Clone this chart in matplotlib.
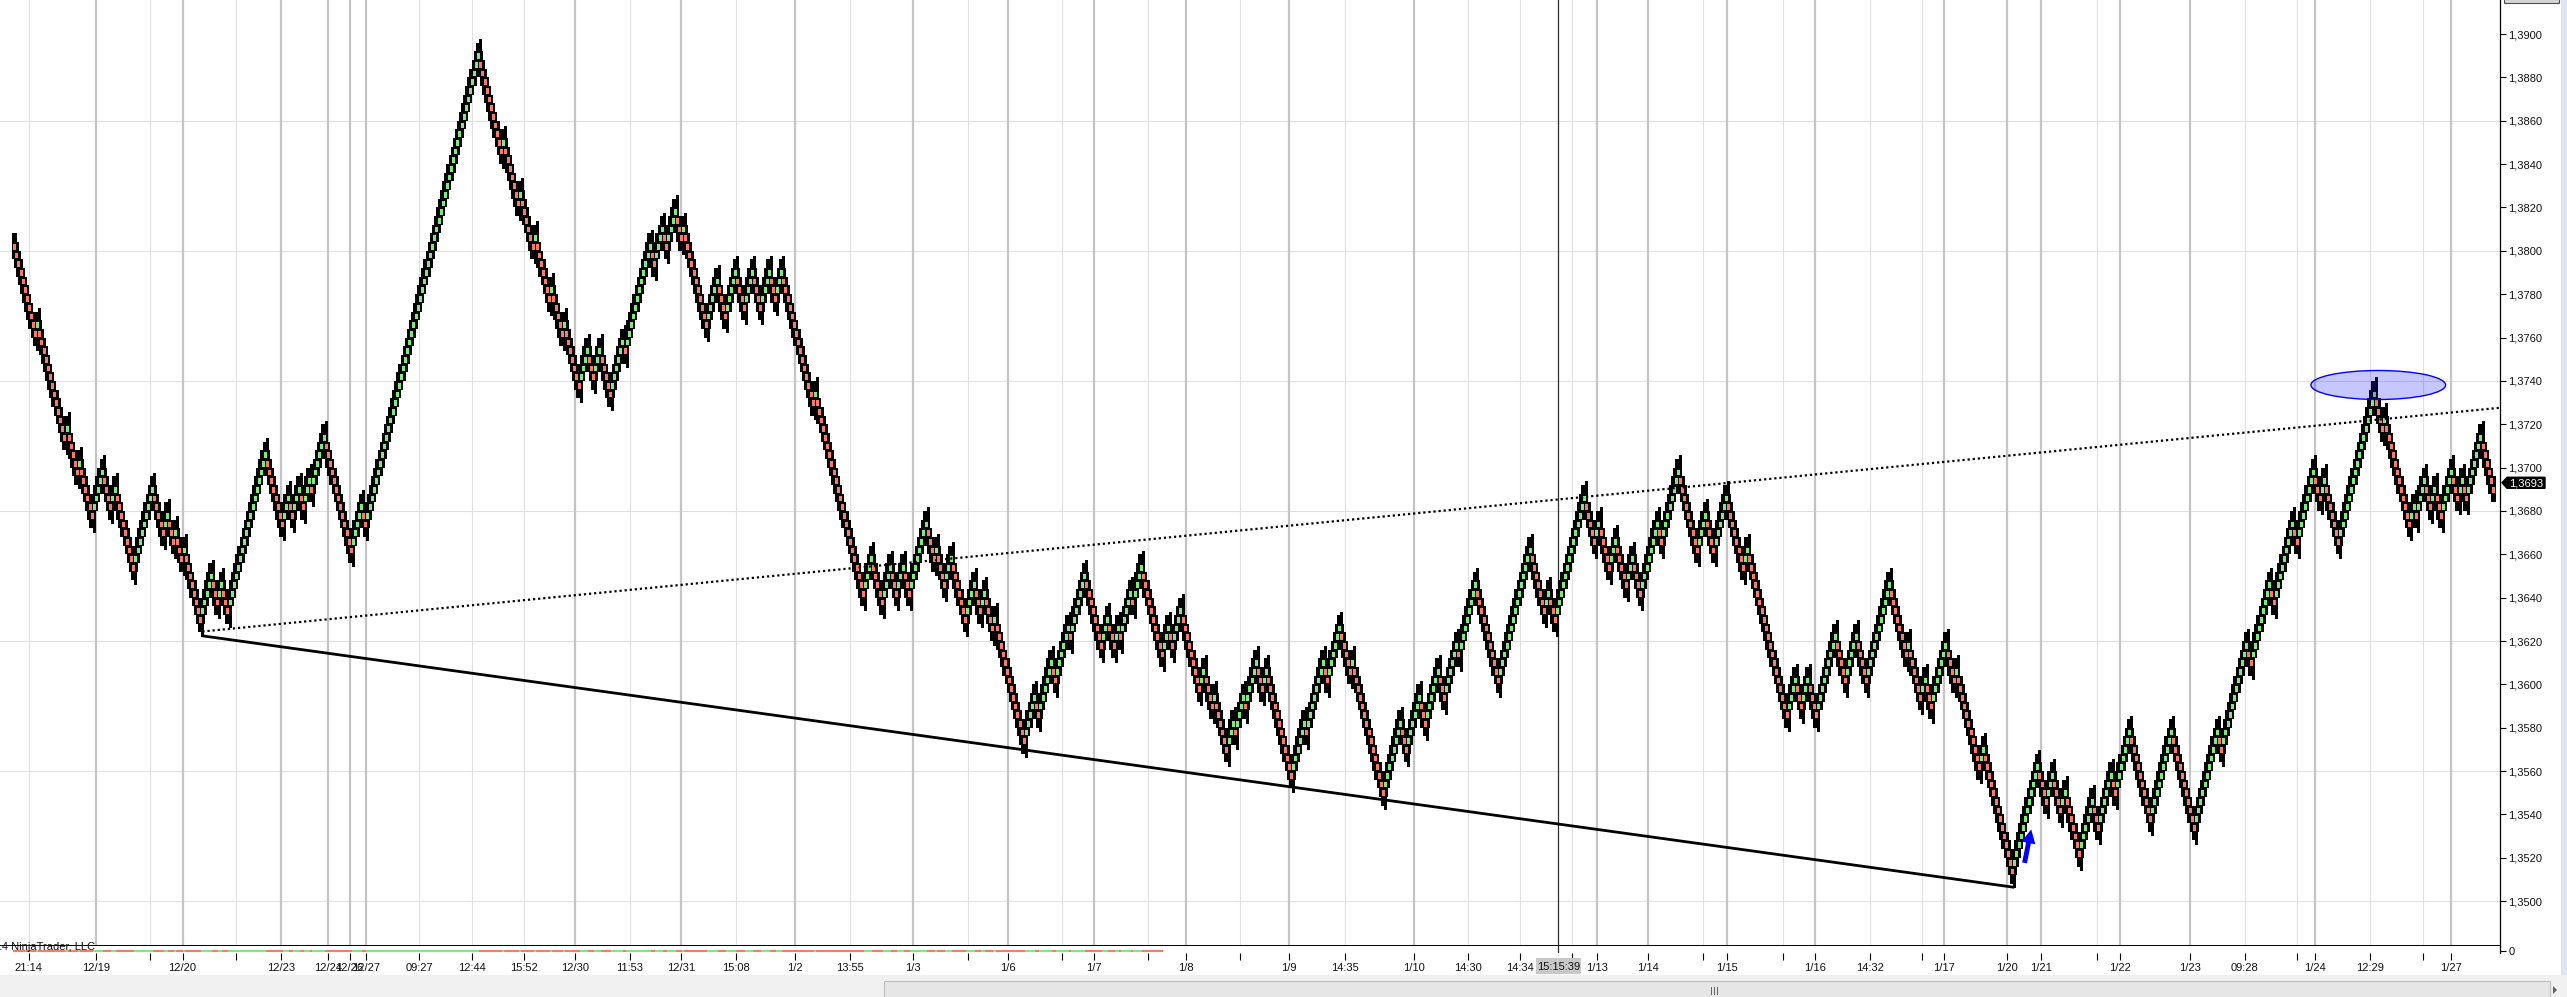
import numpy as np
import matplotlib
matplotlib.use("Agg")
import matplotlib.pyplot as plt
from matplotlib.patches import Ellipse, Rectangle, Polygon

plt.rcParams['font.family'] = ['Liberation Sans', 'DejaVu Sans']

# ---------------- data ----------------
BRICK = 0.0004
# renko reversal points (prices), left to right
pivots_a = [1.3804, 1.3760, 1.3768, 1.3712, 1.3720, 1.3696, 1.3704, 1.3676, 1.3700, 1.3680,
            1.3692, 1.3652, 1.3692, 1.3668, 1.3680, 1.3664, 1.3672, 1.3656, 1.3664, 1.3628]
pivots_b = [1.3652, 1.3636, 1.3648, 1.3632, 1.3708, 1.3672, 1.3688, 1.3676, 1.3692, 1.3680,
            1.3696, 1.3688, 1.3716, 1.3660, 1.3684, 1.3672, 1.3892]
pivots_c = [1.3844, 1.3852, 1.3820, 1.3828, 1.3800, 1.3808, 1.3776, 1.3784, 1.3760, 1.3768,
            1.3736, 1.3756, 1.3740, 1.3756, 1.3732, 1.3760, 1.3752, 1.3804, 1.3792, 1.3812,
            1.3800, 1.3820, 1.3804, 1.3812, 1.3764, 1.3788, 1.3768, 1.3792, 1.3772, 1.3792,
            1.3772, 1.3792, 1.3776, 1.3792]
pivots_d = [1.3728, 1.3736, 1.3640, 1.3660, 1.3636, 1.3656, 1.3640, 1.3656, 1.3640, 1.3676,
            1.3656, 1.3664, 1.3644, 1.3660, 1.3628, 1.3648, 1.3632, 1.3644, 1.3624, 1.3632,
            1.3572]
pivots_e = [1.3596, 1.3584, 1.3612, 1.3600, 1.3628, 1.3620, 1.3652, 1.3616, 1.3632, 1.3616,
            1.3628, 1.3620, 1.3644, 1.3636, 1.3656, 1.3612, 1.3628, 1.3616, 1.3636, 1.3596,
            1.3608, 1.3588, 1.3596, 1.3568, 1.3584, 1.3576, 1.3596, 1.3588, 1.3612, 1.3596,
            1.3608, 1.3556, 1.3584, 1.3576, 1.3612, 1.3600, 1.3628, 1.3604, 1.3612, 1.3548,
            1.3584, 1.3568, 1.3596, 1.3580, 1.3608, 1.3592, 1.3620, 1.3612, 1.3648, 1.3600,
            1.3664, 1.3632, 1.3644, 1.3628, 1.3688, 1.3664, 1.3676, 1.3652, 1.3668, 1.3644,
            1.3660, 1.3640, 1.3676, 1.3664, 1.3700, 1.3660, 1.3680, 1.3660, 1.3688, 1.3652,
            1.3664, 1.3584, 1.3604, 1.3588, 1.3604, 1.3584, 1.3624, 1.3600, 1.3624, 1.3600,
            1.3648, 1.3612, 1.3620, 1.3592, 1.3604, 1.3588, 1.3620, 1.3600, 1.3608, 1.3560,
            1.3572, 1.3512]
pivots_f = [1.3564, 1.3544, 1.3560, 1.3540, 1.3552, 1.3520, 1.3548, 1.3532, 1.3560, 1.3548,
            1.3580, 1.3536, 1.3580, 1.3532, 1.3580, 1.3568, 1.3620, 1.3608, 1.3648, 1.3636,
            1.3676, 1.3664, 1.3700, 1.3684, 1.3696, 1.3664, 1.3736, 1.3716, 1.3724, 1.3672,
            1.3684, 1.3676, 1.3696, 1.3680, 1.3692, 1.3676, 1.3700, 1.3684, 1.3696, 1.3684,
            1.3716, 1.3688]
last_price = 1.3693

# x-axis labels (kind: 'd' = new day, 't' = time / unlabeled)
tick_labels = ['21:14', '12/19', '', '12/20', '', '12/23', '12/24', '12/26', '12/27', '09:27',
               '12:44', '15:52', '12/30', '11:53', '12/31', '15:08', '1/2', '13:55', '1/3', '',
               '1/6', '', '1/7', '', '1/8', '', '1/9', '14:35', '1/10', '14:30', '14:34', '',
               '1/13', '1/14', '', '1/15', '', '1/16', '14:32', '', '1/17', '1/20', '1/21', '',
               '1/22', '1/23', '09:28', '', '1/24', '12:29', '', '1/27']
tick_kinds = ['t', 'd', 't', 'd', 't', 'd', 'd', 'd', 'd', 't',
              't', 't', 'd', 't', 'd', 't', 'd', 't', 'd', 't',
              'd', 't', 'd', 't', 'd', 't', 'd', 't', 'd', 't', 't', 't',
              'd', 'd', 't', 'd', 't', 'd', 't', 't', 'd', 'd', 'd', 't',
              'd', 'd', 't', 't', 'd', 't', 't', 'd']
# screen positions of those ticks (pixels from the left edge of the plot)
tick_px = [28.7, 95.9, 150.4, 182.5, 236.5, 281.3, 327.7, 349.6, 366.2, 419.0,
           471.8, 524.1, 575.1, 629.7, 681.3, 736.4, 795.0, 850.1, 913.1, 968.2,
           1007.8, 1062.4, 1093.9, 1148.5, 1185.8, 1240.3, 1289.1, 1344.8, 1413.7, 1467.6, 1520.4, 1572.0,
           1597.3, 1647.8, 1702.6, 1727.4, 1782.9, 1815.0, 1870.3, 1922.3, 1943.8, 2007.4, 2041.2, 2096.5,
           2120.2, 2189.9, 2244.6, 2297.2, 2315.4, 2370.2, 2422.7, 2450.9]

pivots = pivots_a + pivots_b + pivots_c + pivots_d + pivots_e + pivots_f


# ---------------- renko construction ----------------
def build_renko(piv, b):
    lv = [int(round(p / b)) for p in piv]
    opens, closes, highs, lows = [], [], [], []
    prev_dir = 0
    cur = lv[0]
    for tgt in lv[1:]:
        d = 1 if tgt > cur else -1
        o = cur if prev_dir == 0 else cur - prev_dir  # reversal opens at previous open
        first = True
        while True:
            c = o + d
            if (tgt - c) * d < 0:
                break
            opens.append(o); closes.append(c)
            hi, lo = max(o, c), min(o, c)
            if first and prev_dir != 0:
                if d < 0:
                    hi = cur + 1.4
                else:
                    lo = cur - 1.4
            highs.append(hi); lows.append(lo)
            first = False
            o = c
            if c == tgt:
                break
        prev_dir = d
        cur = tgt
    f = lambda a: np.array(a, dtype=float) * b
    return f(opens), f(closes), f(highs), f(lows)


O, C, Hh, Ll = build_renko(pivots, BRICK)
N = len(O)
idx = np.arange(N)

# ---------------- figure layout ----------------
W, H, DPI = 2567, 997, 100
PX_PER_BAR = 2.09
PLOT_R = 2500          # right edge of plot (px)
MAIN_B = 946           # bottom of price panel (px from top)
PX_PER_PRICE = 21680.0
Y_TOP = 1.3900 + 34 / PX_PER_PRICE
Y_BOT = 1.3900 - (MAIN_B - 34) / PX_PER_PRICE

fig = plt.figure(figsize=(W / DPI, H / DPI), dpi=DPI)
fig.patch.set_facecolor('white')

ax = fig.add_axes([0, (H - MAIN_B) / H, PLOT_R / W, MAIN_B / H])
strip = fig.add_axes([0, (H - 953) / H, PLOT_R / W, 7 / H])

x_right = (N - 1) + 7 / PX_PER_BAR
x_left = x_right - PLOT_R / PX_PER_BAR
ax.set_xlim(x_left, x_right)
ax.set_ylim(Y_BOT, Y_TOP)
strip.set_xlim(x_left, x_right)
strip.set_ylim(0, 1)


def px2x(p):
    return x_left + p / PX_PER_BAR


onepx = 1 / PX_PER_PRICE

# grid
for v in np.arange(1.3500, 1.3901, 0.0060):
    ax.axhline(v, color='#E0E0E0', lw=0.8, zorder=0)
for p, k in zip(tick_px, tick_kinds):
    if k == 'd':
        ax.axvline(px2x(p), color='#C4C4C4', lw=1.6, zorder=0)
    else:
        ax.axvline(px2x(p), color='#E0E0E0', lw=0.8, zorder=0)

# crosshair
cross_x = px2x(1558)
ax.axvline(cross_x, color='#303030', lw=0.9, zorder=1)
strip.axvline(cross_x, color='#303030', lw=0.9)

# ---------------- bars ----------------
up = C > O
body_lo = np.minimum(O, C)
ext = 1.0 * BRICK
ax.vlines(idx, Ll, Hh, colors='black', lw=0.75, zorder=3, antialiased=False)
ax.bar(idx, BRICK + 2 * ext, bottom=body_lo - ext, width=5 / PX_PER_BAR, color='black',
       linewidth=0, zorder=4, antialiased=False)
cols = np.where(up, '#7FE87F', '#F87A6A')
ax.vlines(idx, body_lo + 2 * onepx, body_lo + BRICK - 2 * onepx, colors=cols,
          lw=0.75, zorder=5, antialiased=False)

# ---------------- drawing objects ----------------
i_low1 = int(np.argmin(Ll[:250]))
i_low2 = 800 + int(np.argmin(Ll[800:]))
low1 = Ll[i_low1]
low2 = Ll[i_low2]
ax.plot([i_low1, i_low2], [low1, low2], color='black', lw=2.0, zorder=6,
        solid_capstyle='butt')
ax.plot([i_low1, x_right], [low1 + 0.0002, 1.37276], color='black', lw=1.6,
        linestyle=(0, (1, 1.3)), zorder=6)

i_peak = 1000 + int(np.argmax(Hh[1000:]))
ell = Ellipse((i_peak + 1.1, Hh[i_peak] - 0.00035), width=134.7 / PX_PER_BAR,
              height=29 / PX_PER_PRICE, facecolor=(0, 0, 1, 0.22), edgecolor='#0000FF',
              lw=1.0, zorder=7)
ax.add_patch(ell)

ax.annotate('', xy=(i_low2 + 8.3, low2 + 0.0028),
            xytext=(i_low2 + 4.6, low2 + 0.0010),
            arrowprops=dict(arrowstyle='simple,head_width=1.0,head_length=1.0,tail_width=0.35',
                            color='#0000FF', lw=0), zorder=8)

# ---------------- axes styling ----------------
for a in (ax, strip):
    for s in ('top', 'left'):
        a.spines[s].set_visible(False)
    a.spines['right'].set_color('black')
    a.spines['right'].set_linewidth(0.9)
ax.spines['bottom'].set_color('black')
ax.spines['bottom'].set_linewidth(1.4)
strip.spines['bottom'].set_visible(False)

ax.yaxis.tick_right()
yt = np.round(np.arange(1.3500, 1.3901, 0.0020), 4)
ax.set_yticks(yt)
ax.set_yticklabels([f"{v:.4f}".replace('.', ',') for v in yt])
ax.tick_params(axis='y', direction='out', length=4, width=0.8, color='black',
               labelsize=8, pad=2, labelcolor='#111111')
ax.set_xticks([])

strip.yaxis.tick_right()
strip.set_yticks([0.3])
strip.set_yticklabels(['0'])
strip.tick_params(axis='y', direction='out', length=4, width=0.8, labelsize=8, pad=2,
                  labelcolor='#111111')
strip.set_xticks([px2x(p) for p in tick_px])
strip.set_xticklabels(tick_labels)
strip.tick_params(axis='x', direction='out', length=5, width=0.8, color='black',
                  labelsize=8, pad=2, labelcolor='#111111')

# strip indicator marks
px_of_bar = (idx - x_left) * PX_PER_BAR
mask = px_of_bar < 1163
strip.hlines(np.full(mask.sum(), 0.3), idx[mask] - 0.5, idx[mask] + 0.5,
             colors=np.where(up[mask], '#7FE87F', '#F87A6A'), lw=1.5)

# ---------------- window chrome (pixel overlay) ----------------
ov = fig.add_axes([0, 0, 1, 1], zorder=20)
ov.set_xlim(0, W)
ov.set_ylim(H, 0)
ov.axis('off')
ov.patch.set_alpha(0)

yl = 34 + (1.3900 - last_price) * PX_PER_PRICE
ov.add_patch(Polygon([[2502, yl], [2507, yl - 5.5], [2545, yl - 5.5], [2545, yl + 5.5],
                      [2507, yl + 5.5]], closed=True, facecolor='black', edgecolor='black'))
ov.text(2526, yl + 0.3, f"{last_price:.4f}".replace('.', ','), color='white', fontsize=8,
        ha='center', va='center')

ov.add_patch(Rectangle((2504, -12), 55, 15, facecolor='#D4D4D4', edgecolor='#505050', lw=0.8))
ov.add_patch(Rectangle((1536, 958), 45, 16, facecolor='#C8C8C8', edgecolor='none'))
ov.text(1558.5, 966.5, '15:15:39', fontsize=8, ha='center', va='center', color='#111111')

ov.text(95, 947, '\u00a9 2014 NinjaTrader, LLC', fontsize=8, ha='right', va='center',
        color='#111111')

ov.add_patch(Rectangle((0, 975), W, 22, facecolor='#F0F0F0', edgecolor='none'))
ov.add_patch(Rectangle((884, 981), 1666, 20, facecolor='#E6E6E6', edgecolor='#BDBDBD', lw=0.8))
for gx in (1711, 1714, 1717):
    ov.plot([gx, gx], [987, 994], color='#606060', lw=0.7)
ov.add_patch(Polygon([[2553, 986], [2553, 994], [2557, 990]], closed=True,
                     facecolor='#606060', edgecolor='none'))
ov.add_patch(Rectangle((2561, 0), 6, 975, facecolor='#DCE6F2', edgecolor='none'))

fig.savefig('out.png', dpi=DPI)
print(N, x_left)
